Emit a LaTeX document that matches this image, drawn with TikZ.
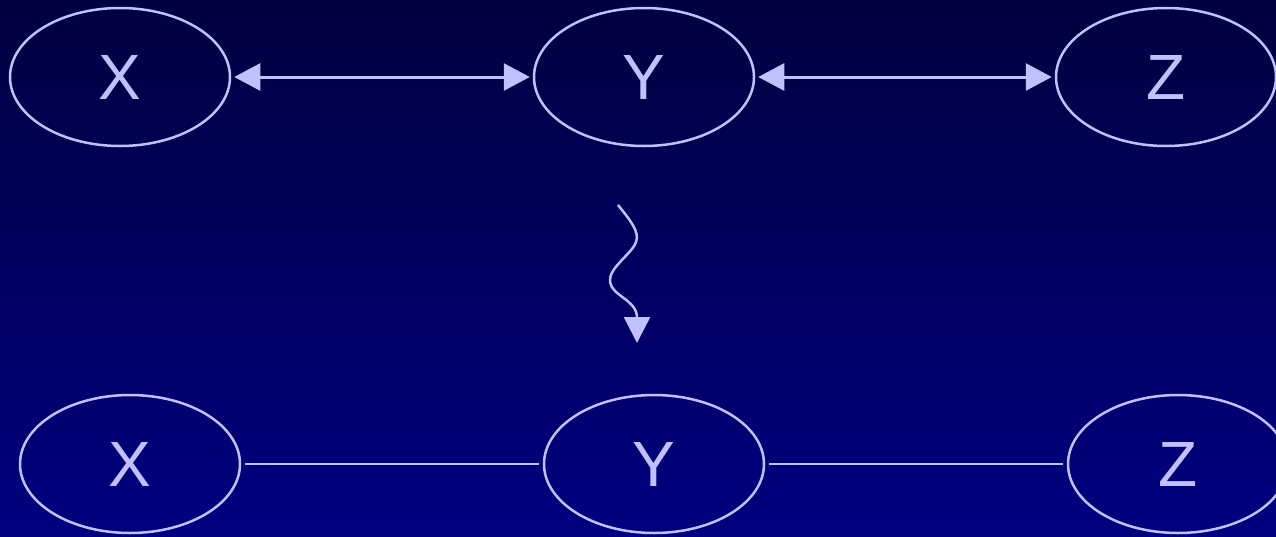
\documentclass[tikz,border=0pt]{standalone}
\usepackage{fontspec}
\setmainfont{Liberation Sans}
\usetikzlibrary{shapes.geometric,arrows.meta}
\definecolor{lav}{RGB}{192,192,255}
\definecolor{bgtop}{RGB}{0,0,64}
\definecolor{bgbot}{RGB}{0,0,128}
\begin{document}
\begin{tikzpicture}[x=1pt,y=-1pt,
  var/.style={ellipse,draw=lav,line width=2.5pt,minimum width=220pt,minimum height=138pt,inner sep=0pt,text=lav,font=\fontsize{64}{64}\selectfont},
  biarrow/.style={lav,line width=3pt,{Triangle[length=26pt,width=27pt]}-{Triangle[length=26pt,width=27pt]},shorten <=3pt,shorten >=3pt},
  edge/.style={lav,line width=2.5pt,shorten <=4pt,shorten >=4pt},
  squig/.style={lav,line width=2.5pt,-{Triangle[length=26pt,width=26pt]}}]
\shade[top color=bgtop,bottom color=bgbot] (0,0) rectangle (1276,536);
\useasboundingbox (0,0) rectangle (1276,536);
\node[var] (X1) at (120,77) {X};
\node[var] (Y1) at (644,77) {Y};
\node[var] (Z1) at (1166,77) {Z};
\node[var] (X2) at (130,464) {X};
\node[var] (Y2) at (654,464) {Y};
\node[var] (Z2) at (1178,464) {Z};
\draw[biarrow] (X1) -- (Y1);
\draw[biarrow] (Y1) -- (Z1);
\draw[edge] (X2) -- (Y2);
\draw[edge] (Y2) -- (Z2);
\coordinate (s0) at (618,205);
\coordinate (s1) at (636,242);
\coordinate (s2) at (610,282);
\coordinate (s3) at (637,343);
\draw[squig] (s0) .. controls (630,220) and (640,232) .. (s1) .. controls (632,254) and (608,268) .. (s2) .. controls (612,296) and (637,300) .. (s3);
\end{tikzpicture}
\end{document}
